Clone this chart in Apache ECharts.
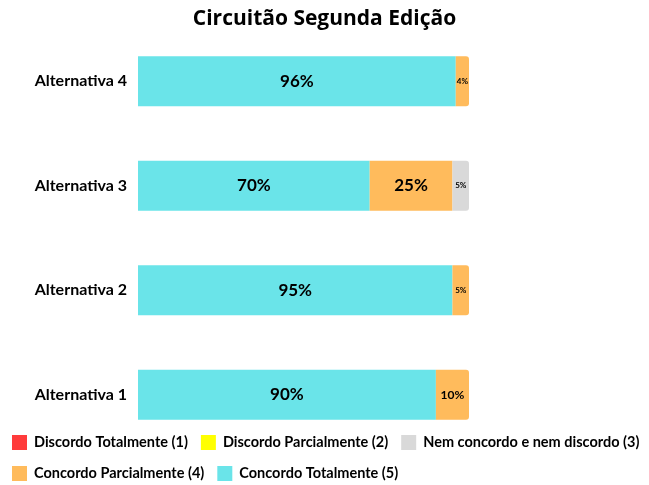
<!DOCTYPE html>
<html><head><meta charset="utf-8">
<script src="https://cdn.jsdelivr.net/npm/echarts@6/dist/echarts.min.js"></script>
<style>html,body{margin:0;padding:0;background:#fff}#c{width:649px;height:485px}</style>
</head><body><div id="c"></div>
<script>
const categories = ['Alternativa 1','Alternativa 2','Alternativa 3','Alternativa 4'];
const concordoTotalmente = [90,95,70,96];
const concordoParcialmente = [10,5,25,4];
const nemConcordo = [0,0,5,0];
const discordoParcialmente = [0,0,0,0];
const discordoTotalmente = [0,0,0,0];
const seriesNames = ['Discordo Totalmente (1)','Discordo Parcialmente (2)','Nem concordo e nem discordo (3)','Concordo Parcialmente (4)','Concordo Totalmente (5)'];
const colors = {
  'Discordo Totalmente (1)':'#ff3b3b',
  'Discordo Parcialmente (2)':'#ffff00',
  'Nem concordo e nem discordo (3)':'#d9d9d9',
  'Concordo Parcialmente (4)':'#ffbb5c',
  'Concordo Totalmente (5)':'#6ae4e9'
};
const FONT = 'Lato';
// stack order left->right
const stackOrder = [
  ['Concordo Totalmente (5)', concordoTotalmente],
  ['Concordo Parcialmente (4)', concordoParcialmente],
  ['Nem concordo e nem discordo (3)', nemConcordo],
  ['Discordo Parcialmente (2)', discordoParcialmente],
  ['Discordo Totalmente (1)', discordoTotalmente]
];
function labelSize(v){ return v >= 20 ? 17 : (v >= 10 ? 12 : 8); }
const series = stackOrder.map(([name, vals], si) => ({
  name, type:'bar', stack:'t', barWidth:50,
  itemStyle:{color:colors[name]},
  data: vals.map((v, i) => {
    let last = true;
    for (let k = si+1; k < stackOrder.length; k++) if (stackOrder[k][1][i] > 0) last = false;
    return {
      value: v,
      itemStyle:{borderRadius: last ? [0,3,3,0] : 0},
      label:{show: v > 0, fontSize: labelSize(v)}
    };
  }),
  label:{show:true, position:'inside', color:'#000', fontWeight:'bold', fontFamily:FONT,
    formatter: p => p.value > 0 ? p.value + '%' : ''}
}));
const legendText = {fontFamily:FONT, fontWeight:'bold', fontSize:14.5, color:'#000', padding:[0,0,0,2]};
const chart = echarts.init(document.getElementById('c'));
chart.setOption({
  animation:false,
  title:{text:'Circuitão Segunda Edição', left:'center', top:4,
    textStyle:{fontFamily:'Open Sans', fontWeight:'bold', fontSize:21, color:'#000'}},
  grid:{left:138, right:180, top:29, bottom:38},
  xAxis:{type:'value', min:0, max:100, show:false},
  yAxis:{type:'category', data:categories, axisLine:{show:false}, axisTick:{show:false},
    axisLabel:{fontFamily:FONT, fontWeight:'bold', fontSize:16, color:'#000', margin:11}},
  legend:[
    {data:seriesNames.slice(0,3), left:12, top:435, padding:0, icon:'rect', itemWidth:15, itemHeight:15, itemGap:13,
     textStyle:legendText},
    {data:seriesNames.slice(3), left:12, top:466, padding:0, icon:'rect', itemWidth:15, itemHeight:15, itemGap:13,
     textStyle:legendText}
  ],
  series
});
</script></body></html>
